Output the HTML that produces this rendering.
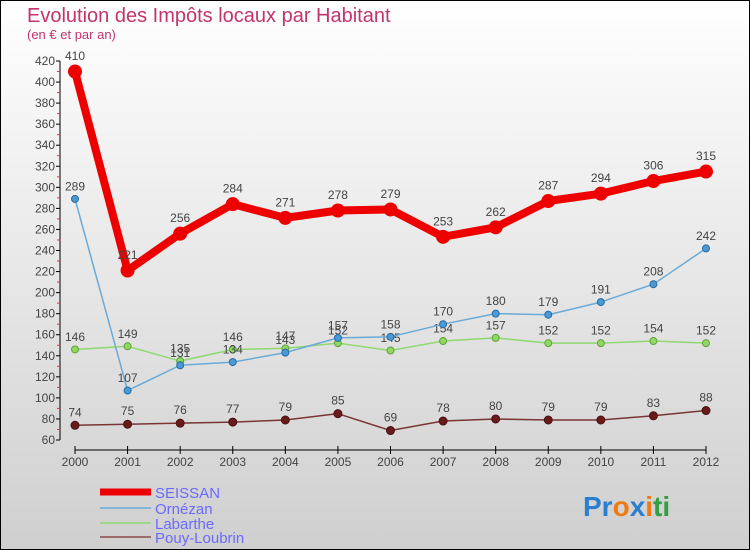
<!DOCTYPE html>
<html><head><meta charset="utf-8"><style>
body{margin:0}
svg{display:block;font-family:"Liberation Sans",sans-serif}
</style></head><body>
<svg id="c" width="750" height="550">
<defs><linearGradient id="bg" x1="0" y1="0" x2="0" y2="1"><stop offset="0" stop-color="#ffffff"/><stop offset="1" stop-color="#cfcfcf"/></linearGradient></defs>
<rect x="0.5" y="0.5" width="749" height="549" fill="url(#bg)" stroke="#000"/>
<text x="27" y="22" font-size="20" fill="#c2346e">Evolution des Impôts locaux par Habitant</text>
<text x="27" y="39" font-size="13" fill="#c2346e">(en € et par an)</text>
<g id="axes"></g><g id="series"></g>
<g>
<line x1="100" y1="492" x2="151" y2="492" stroke="#e00" stroke-width="7"/>
<text x="155" y="498" font-size="15" fill="#6a6aff">SEISSAN</text>
<line x1="100" y1="508" x2="151" y2="508" stroke="#6aaad8" stroke-width="1.5"/>
<text x="155" y="514" font-size="15" fill="#6a6aff">Ornézan</text>
<line x1="100" y1="523" x2="151" y2="523" stroke="#90d870" stroke-width="1.5"/>
<text x="155" y="529" font-size="15" fill="#6a6aff">Labarthe</text>
<line x1="100" y1="537" x2="151" y2="537" stroke="#8a4a4a" stroke-width="1.5"/>
<text x="155" y="543" font-size="15" fill="#6a6aff">Pouy-Loubrin</text>
</g>
<text x="583" y="516" font-size="28" font-weight="bold"><tspan fill="#2a7fd0">Pr</tspan><tspan fill="#f07a10">o</tspan><tspan fill="#2a7fd0">x</tspan><tspan fill="#f07a10">i</tspan><tspan fill="#30a040">ti</tspan></text>
</svg>
<script>
const years=[2000,2001,2002,2003,2004,2005,2006,2007,2008,2009,2010,2011,2012];
const seissan=[410,221,256,284,271,278,279,253,262,287,294,306,315];
const ornezan=[289,107,131,134,143,157,158,170,180,179,191,208,242];
const labarthe=[146,149,135,146,147,152,145,154,157,152,152,154,152];
const pouy=[74,75,76,77,79,85,69,78,80,79,79,83,88];
const yTicks=[60,80,100,120,140,160,180,200,220,240,260,280,300,320,340,360,380,400,420];
const NS="http://www.w3.org/2000/svg";
const X=i=>75+i*(706-75)/(years.length-1);
const Y=v=>440-(v-60)*(379/360);
function mk(t,a,p){const e=document.createElementNS(NS,t);for(const k in a)e.setAttribute(k,a[k]);p.appendChild(e);return e;}
const ax=document.getElementById('axes');
const yl=mk('line',{x1:60,y1:Y(420),x2:60,y2:440,stroke:'#000'},ax);


yTicks.forEach(v=>{
 mk('line',{x1:56,y1:Y(v),x2:60,y2:Y(v),stroke:'#000'},ax);
 if(v<420) mk('line',{x1:57,y1:Y(v+10),x2:60,y2:Y(v+10),stroke:'#e33'},ax);
 const t=mk('text',{x:55,y:Y(v)+4,'text-anchor':'end','font-size':12,fill:'#444'},ax);t.textContent=v;
 
 
});
const xl=mk('line',{x1:X(0),y1:450,x2:X(12),y2:450,stroke:'#000'},ax);


years.forEach((y,i)=>{
 mk('line',{x1:X(i),y1:446,x2:X(i),y2:454,stroke:'#000'},ax);
 const t=mk('text',{x:X(i),y:466,'text-anchor':'middle','font-size':12,fill:'#444'},ax);t.textContent=y;
 
 
});
const sg=document.getElementById('series');
function series(data,name,color,w,r,dot,dotStroke){
 const g=mk('g',{},sg);
 
 
 mk('polyline',{points:data.map((v,i)=>X(i)+','+Y(v)).join(' '),fill:'none',stroke:color,'stroke-width':w,'stroke-linejoin':'round'},g);
 data.forEach((v,i)=>{
  const c=mk('circle',{cx:X(i),cy:Y(v),r:r,fill:dot,stroke:dotStroke,'stroke-width':1},g);
  
  
  const t=mk('text',{x:X(i),y:Y(v)-r-5,'text-anchor':'middle','font-size':12,fill:'#444'},g);t.textContent=v;
  
  
 });
}
series(pouy,'pouy-loubrin-series','#7a3535',1.5,4,'#6a1a1a','#4a1010');
series(labarthe,'labarthe-series','#90d870',1.5,3.5,'#90d860','#60a040');
series(ornezan,'ornezan-series','#6aaad8',1.5,3.5,'#4a9ad8','#2a6aa0');
series(seissan,'seissan-series','#e00',8,6.5,'#e00','#e00');
</script>
</body></html>
